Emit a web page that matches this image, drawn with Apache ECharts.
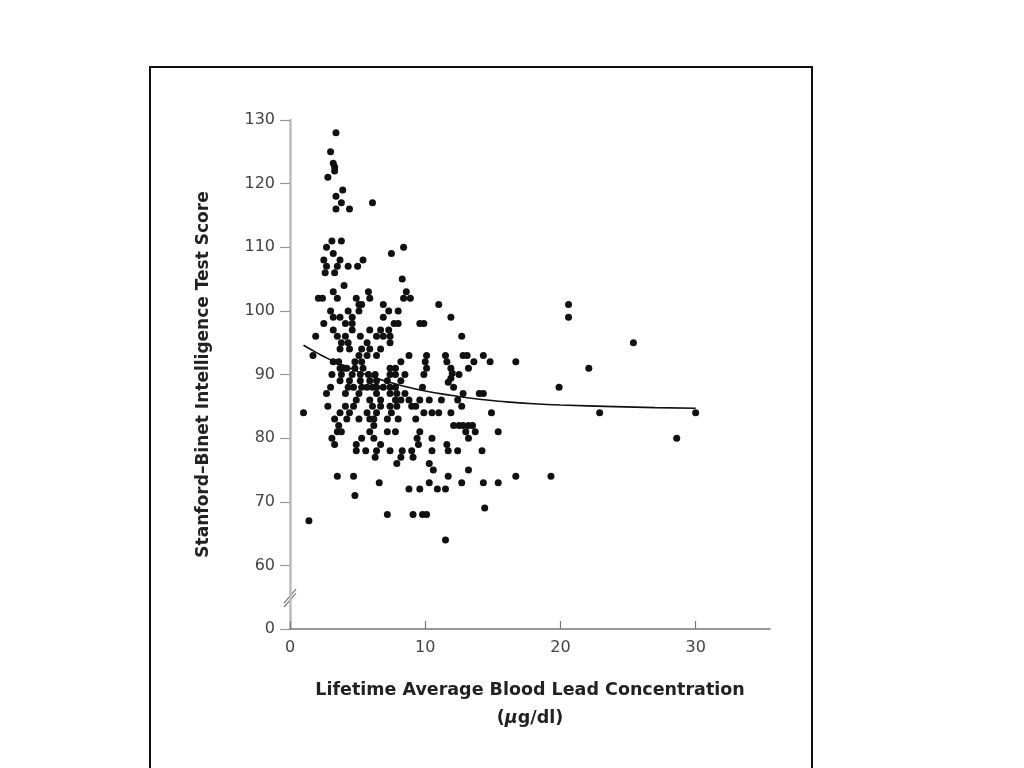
<!DOCTYPE html>
<html>
<head>
<meta charset="utf-8">
<script src="https://cdn.jsdelivr.net/npm/echarts@6/dist/echarts.min.js"></script>
<style>
html, body { margin: 0; padding: 0; background: #fff; }
#chart { width: 1024px; height: 768px; }
</style>
</head>
<body>
<div id="chart"></div>
<script>
// blood lead (ug/dl) and IQ score, one entry per child
const lead = [
  3.4, 3.0, 3.2, 3.3, 3.3, 2.8, 3.9, 3.4, 3.8, 6.1, 3.4, 4.4, 3.1, 3.8, 2.7, 8.4, 3.2, 7.5, 2.5, 3.7,
  5.4, 2.7, 3.5, 4.3, 5.0, 2.6, 3.3, 8.3, 4.0, 3.2, 5.8, 8.6, 2.1, 2.4, 3.5, 4.9, 5.9, 8.4, 8.9, 5.1,
  5.3, 11.0, 6.9, 3.0, 4.3, 5.1, 7.3, 8.0, 3.2, 3.7, 4.6, 6.9, 2.5, 4.1, 4.6, 7.7, 8.0, 9.6, 9.9, 3.2,
  4.6, 5.9, 6.7, 7.3, 1.9, 3.5, 4.1, 5.2, 6.4, 6.9, 7.4, 3.8, 4.3, 5.7, 7.4, 3.7, 4.4, 5.3, 5.9, 6.7,
  1.7, 5.1, 5.7, 6.4, 8.8, 10.1, 3.2, 3.6, 4.8, 5.3, 8.2, 3.7, 4.0, 4.2, 4.8, 5.4, 10.1, 7.4, 7.8, 10.0,
  3.1, 3.8, 4.6, 5.2, 5.8, 6.3, 7.4, 7.8, 8.5, 9.9, 3.7, 4.4, 5.2, 5.9, 6.4, 7.2, 8.2, 3.0, 4.3, 4.7,
  5.3, 5.7, 6.1, 6.4, 6.9, 7.4, 7.8, 9.8, 2.7, 4.1, 5.1, 6.4, 7.4, 7.9, 8.5, 4.9, 5.9, 6.7, 7.8, 8.2,
  8.8, 9.6, 10.3, 2.8, 4.1, 4.7, 6.1, 6.7, 7.4, 7.9, 9.0, 9.3, 1.0, 3.7, 4.4, 5.7, 6.4, 7.5, 9.9, 10.5,
  11.0, 3.3, 4.2, 5.1, 5.9, 6.2, 7.2, 8.0, 9.3, 3.6, 6.2, 3.5, 3.8, 5.9, 7.2, 7.8, 9.6, 3.1, 5.3, 6.2,
  9.4, 10.5, 3.3, 4.9, 6.7, 9.5, 4.9, 5.6, 6.4, 7.4, 8.3, 9.0, 10.5, 6.3, 8.2, 9.1, 7.9, 10.3, 10.6, 3.5,
  4.7, 6.6, 10.3, 8.8, 9.6, 10.9, 4.8, 7.2, 9.1, 9.8, 10.1, 1.4, 11.9, 12.7, 11.5, 12.8, 13.1, 14.3, 11.6, 13.6,
  14.8, 16.7, 13.2, 11.9, 12.0, 11.9, 11.7, 12.5, 12.1, 12.8, 14.0, 14.3, 11.2, 12.4, 12.7, 14.9, 11.9, 12.1, 12.5, 12.8,
  13.2, 13.5, 13.0, 13.7, 15.4, 13.2, 11.6, 11.7, 12.4, 14.2, 13.2, 11.7, 16.7, 12.7, 14.3, 15.4, 11.5, 14.4, 11.5, 20.6,
  20.6, 25.4, 22.1, 19.9, 22.9, 30.0, 28.6, 19.3
];
const iq = [
  128, 125, 123.2, 122.6, 122, 121, 119, 118, 117, 117, 116, 116, 111, 111, 110, 110, 109, 109, 108, 108,
  108, 107, 107, 107, 107, 106, 106, 105, 104, 103, 103, 103, 102, 102, 102, 102, 102, 102, 102, 101,
  101, 101, 101, 100, 100, 100, 100, 100, 99, 99, 99, 99, 98, 98, 98, 98, 98, 98, 98, 97,
  97, 97, 97, 97, 96, 96, 96, 96, 96, 96, 96, 95, 95, 95, 95, 94, 94, 94, 94, 94,
  93, 93, 93, 93, 93, 93, 92, 92, 92, 92, 92, 91, 91, 91, 91, 91, 91, 91, 91, 92,
  90, 90, 90, 90, 90, 90, 90, 90, 90, 90, 89, 89, 89, 89, 89, 89, 89, 88, 88, 88,
  88, 88, 88, 88, 88, 88, 88, 88, 87, 87, 87, 87, 87, 87, 87, 86, 86, 86, 86, 86,
  86, 86, 86, 85, 85, 85, 85, 85, 85, 85, 85, 85, 84, 84, 84, 84, 84, 84, 84, 84,
  84, 83, 83, 83, 83, 83, 83, 83, 83, 82, 82, 81, 81, 81, 81, 81, 81, 80, 80, 80,
  80, 80, 79, 79, 79, 79, 78, 78, 78, 78, 78, 78, 78, 77, 77, 77, 76, 76, 75, 74,
  74, 73, 73, 72, 72, 72, 71, 68, 68, 68, 68, 67, 99, 96, 93, 93, 93, 93, 92, 92,
  92, 92, 91, 91, 90.2, 89.4, 88.8, 90, 88, 87, 87, 87, 86, 86, 85, 84, 84, 82, 82, 82,
  82, 82, 81, 81, 81, 80, 79, 78, 78, 78, 75, 74, 74, 73, 73, 73, 72, 69, 64, 101,
  99, 95, 91, 88, 84, 84, 80, 74
];

// fitted curve
const fitLead = [1, 2, 3, 4, 5, 6, 7, 8, 10, 12, 14, 16, 18, 20, 24, 27, 30];
const fitIQ = [94.6, 93.4, 92.3, 91.4, 90.5, 89.7, 89.0, 88.4, 87.4, 86.7, 86.1, 85.7, 85.4, 85.2, 84.95, 84.8, 84.7];

// axis ticks (the y axis is broken: 50 on the scale stands for the 0 label)
const xTicks = [0, 10, 20, 30];
const yTicks = [50, 60, 70, 80, 90, 100, 110, 120, 130];
const yTickLabels = ['0', '60', '70', '80', '90', '100', '110', '120', '130'];

const points = lead.map((v, i) => [v, iq[i]]);
const fitLine = fitLead.map((v, i) => [v, fitIQ[i]]);

const titleFont = '"DejaVu Sans", sans-serif';
const tickFont = '"DejaVu Sans", sans-serif';

const myChart = echarts.init(document.getElementById('chart'));
myChart.setOption({
    animation: false,
    backgroundColor: '#fff',
    grid: { left: 290, right: 254, top: 120, bottom: 139 },
    xAxis: {
        type: 'value',
        min: 0,
        max: 35.5,
        name: 'Lifetime Average Blood Lead Concentration\n({mu|µ}g/dl)',
        nameLocation: 'middle',
        nameGap: 47,
        nameTextStyle: {
            fontFamily: titleFont, fontSize: 17.5, fontWeight: 'bold', color: '#222', lineHeight: 28,
            rich: { mu: { fontFamily: titleFont, fontSize: 17.5, fontWeight: 'bold', fontStyle: 'italic', color: '#222' } }
        },
        axisLine: { lineStyle: { color: '#777', width: 1.5 } },
        axisTick: { inside: true, length: 8, customValues: xTicks, lineStyle: { color: '#777', width: 1.2 } },
        axisLabel: { customValues: xTicks, margin: 11, fontFamily: tickFont, fontSize: 16, color: '#444' },
        splitLine: { show: false }
    },
    yAxis: {
        type: 'value',
        min: 50,
        max: 130,
        name: 'Stanford–Binet Intelligence Test Score',
        nameLocation: 'middle',
        nameGap: 78,
        nameTextStyle: { fontFamily: titleFont, fontSize: 17, fontWeight: 'bold', color: '#222' },
        axisLine: { show: true, lineStyle: { color: '#bbb', width: 2.5 } },
        axisTick: { length: 10, customValues: yTicks, lineStyle: { color: '#999', width: 1.2 } },
        axisLabel: {
            customValues: yTicks, margin: 15, fontFamily: tickFont, fontSize: 16, color: '#444',
            formatter: (v) => yTickLabels[yTicks.indexOf(v)]
        },
        splitLine: { show: false }
    },
    series: [
        {
            type: 'scatter',
            data: points,
            symbolSize: 7,
            itemStyle: { color: '#111', opacity: 1 }
        },
        {
            type: 'line',
            data: fitLine,
            smooth: true,
            showSymbol: false,
            lineStyle: { color: '#111', width: 1.6 },
            z: 3
        }
    ]
});

// frame around the figure and the axis-break marks
const brk = myChart.convertToPixel({ gridIndex: 0 }, [0, 55]);
myChart.setOption({
    graphic: [
        {
            type: 'rect',
            shape: { x: 150, y: 67, width: 662, height: 720 },
            style: { fill: 'none', stroke: '#111', lineWidth: 2 },
            silent: true
        },
        {
            type: 'rect',
            shape: { x: brk[0] - 3, y: brk[1] - 2, width: 6, height: 4 },
            style: { fill: '#fff' },
            silent: true
        },
        {
            type: 'line',
            shape: { x1: brk[0] - 6, y1: brk[1] + 6, x2: brk[0] + 6, y2: brk[1] - 8 },
            style: { stroke: '#777', lineWidth: 1.2 },
            silent: true
        },
        {
            type: 'line',
            shape: { x1: brk[0] - 6, y1: brk[1] + 10, x2: brk[0] + 6, y2: brk[1] - 4 },
            style: { stroke: '#777', lineWidth: 1.2 },
            silent: true
        }
    ]
});
</script>
</body>
</html>
